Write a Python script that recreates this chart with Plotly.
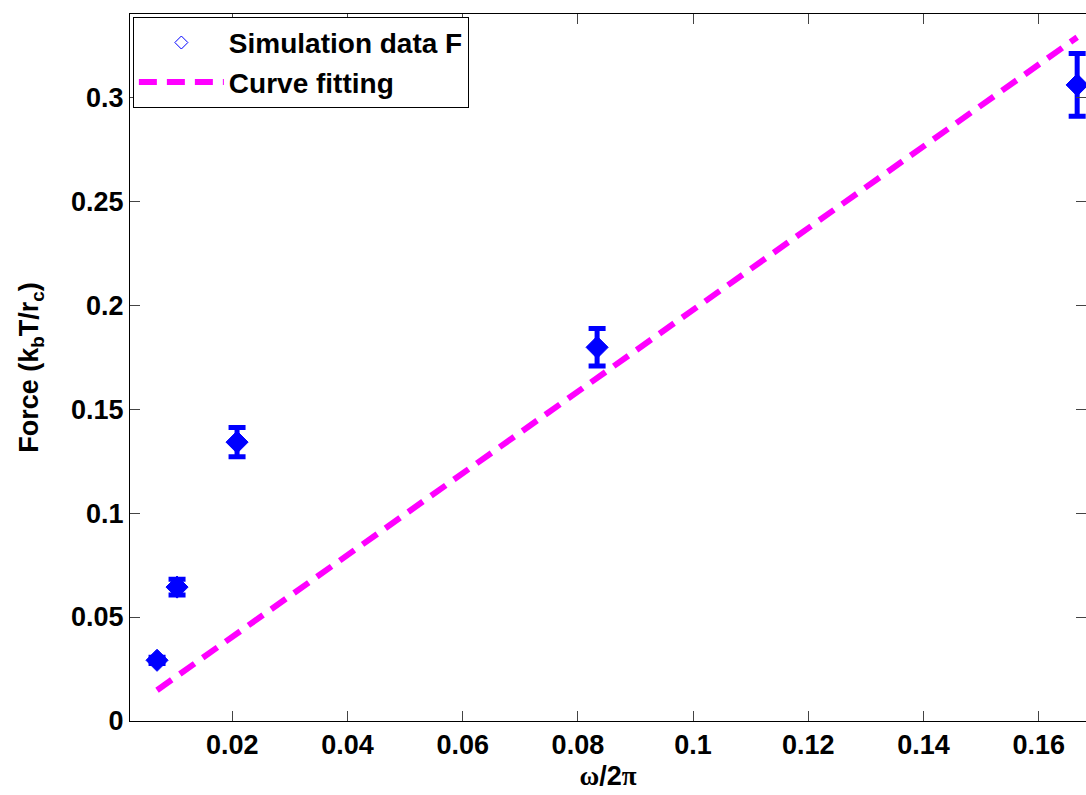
import plotly.graph_objects as go

# Simulation samples: rotation frequency omega/2pi vs. force (kbT/rc)
freq = [1/144, 1/96, 1/48, 1/12, 1/6]
force = [0.0292, 0.0644, 0.1341, 0.1797, 0.3059]
force_err = [0.0015, 0.0038, 0.007, 0.009, 0.0151]

# Linear fit endpoints
fit_x = [1/144, 1/6]
fit_y = [0.0148, 0.3288]

x_ticks = [0.02, 0.04, 0.06, 0.08, 0.10, 0.12, 0.14, 0.16]
x_tick_text = ["0.02", "0.04", "0.06", "0.08", "0.1", "0.12", "0.14", "0.16"]
y_ticks = [0, 0.05, 0.10, 0.15, 0.20, 0.25, 0.30]
y_tick_text = ["0", "0.05", "0.1", "0.15", "0.2", "0.25", "0.3"]

BLUE = "#0000FF"
MAGENTA = "#FF00FF"
FONT = "Liberation Sans, Arial, sans-serif"

fig = go.Figure()

# fitted line
fig.add_trace(go.Scatter(
    x=fit_x, y=fit_y, mode="lines",
    line=dict(color=MAGENTA, width=6, dash="18px,10px"),
    name="Curve fitting", showlegend=False,
))

# simulation data with error bars
fig.add_trace(go.Scatter(
    x=freq, y=force, mode="markers",
    marker=dict(symbol="diamond", size=17, color=BLUE, line=dict(color=BLUE, width=1)),
    error_y=dict(type="data", array=force_err, visible=True, color=BLUE, thickness=5, width=8.5),
    name="Simulation data F", showlegend=False,
))

# legend entries (open diamond marker and dashed line keys)
fig.add_trace(go.Scatter(
    x=[None], y=[None], mode="markers",
    marker=dict(symbol="diamond-open", size=10, color=BLUE, line=dict(color=BLUE, width=1)),
    name="<b>Simulation data F</b>",
))
fig.add_trace(go.Scatter(
    x=[None], y=[None], mode="lines",
    line=dict(color=MAGENTA, width=6, dash="18px,10px"),
    name="<b>Curve fitting</b>",
))

axis_common = dict(
    showgrid=False, zeroline=False, showline=True, linecolor="black", linewidth=1,
    mirror="ticks", ticks="inside", ticklen=10, tickcolor="#444444", tickwidth=1,
    tickfont=dict(family=FONT, size=27, color="black"),
)

fig.update_xaxes(
    range=[0.00225, 0.1682], tickvals=x_ticks, ticktext=[f"<b>{t}</b>" for t in x_tick_text],
    title=dict(text="<b><span style='font-family:Liberation Serif'>ω</span>/2<span style='font-family:Liberation Serif'>π</span></b>",
               font=dict(family=FONT, size=27, color="black"), standoff=6),
    **axis_common,
)
fig.update_yaxes(
    range=[0, 0.34], tickvals=y_ticks, ticktext=[f"<b>{t}</b>" for t in y_tick_text],
    title=dict(text="<b>Force (k<sub>b</sub>T/r<sub>c</sub>)</b>",
               font=dict(family=FONT, size=27, color="black"), standoff=24),
    **axis_common,
)

fig.update_layout(
    width=1086, height=795,
    margin=dict(l=130, r=0, t=14, b=74, pad=0),
    plot_bgcolor="white", paper_bgcolor="white",
    legend=dict(
        x=0.003, y=0.996, xanchor="left", yanchor="top",
        bgcolor="white", bordercolor="black", borderwidth=1,
        font=dict(family=FONT, size=28, color="black"),
        itemwidth=85, tracegroupgap=0, itemclick=False, itemdoubleclick=False,
    ),
)

fig.write_html("out.html")
